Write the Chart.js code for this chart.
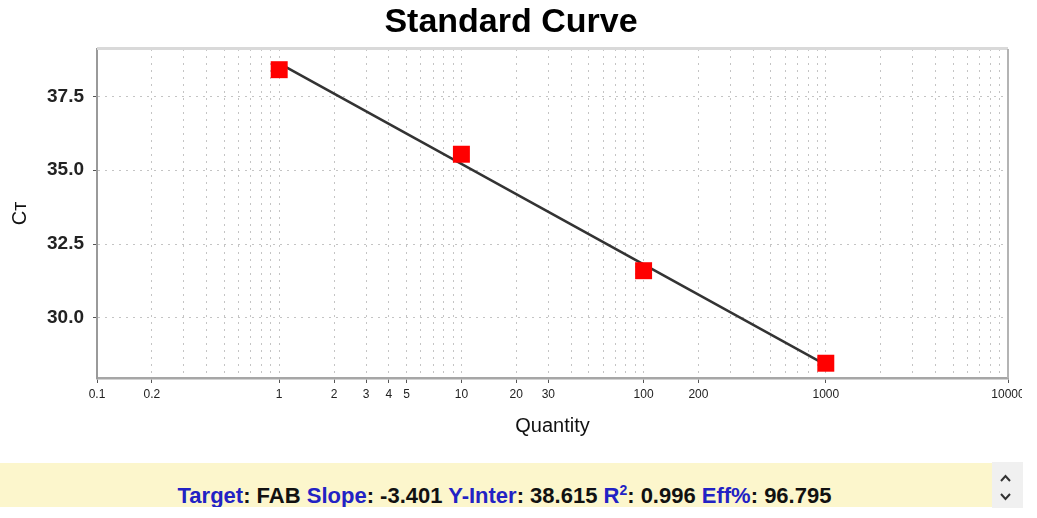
<!DOCTYPE html>
<html>
<head>
<meta charset="utf-8">
<title>Standard Curve</title>
<script src="https://cdn.jsdelivr.net/npm/chart.js@4.4.1/dist/chart.umd.min.js"></script>
<style>
  html, body { margin: 0; padding: 0; background: #fff; }
  body { width: 1037px; height: 518px; position: relative; overflow: hidden; font-family: "Liberation Sans", Arial, sans-serif; }
  #chartBox { position: absolute; left: 0; top: 0; width: 1022px; height: 460px; }
  #stats {
    position: absolute; left: 0; top: 463px; width: 992px; height: 44px;
    padding-left: 17px; padding-top: 22px; box-sizing: border-box;
    background: #fcf6cc; overflow: hidden; text-align: center; white-space: nowrap;
    font: bold 22px/22px "Liberation Sans", Arial, sans-serif; color: #111;
  }
  #stats .k { color: #2222c4; }
  #stats sup { font-size: 14px; line-height: 0; vertical-align: 8px; }
  #scroller { position: absolute; left: 992px; top: 462px; width: 31px; height: 46px; background: #f0f0f0; }
</style>
</head>
<body>
<div id="chartBox"><canvas id="curve"></canvas></div>
<div id="stats"></div>
<div id="scroller">
  <svg width="31" height="46">
    <polyline points="9,19 13.5,14 18,19" fill="none" stroke="#333" stroke-width="2"/>
    <polyline points="9,32 13.5,37 18,32" fill="none" stroke="#333" stroke-width="2"/>
  </svg>
</div>
<script>
// standards: quantity vs Ct
const quantities = [1, 10, 100, 1000];
const ctValues = [38.40, 35.54, 31.60, 28.47];

// fitted line end points
const fitQuantities = [1, 1000];
const fitCt = [38.615, 28.412];

// axis ticks
const xDecades = [0.1, 1, 10, 100, 1000];
const xSteps = [1, 2, 3, 4, 5, 6, 7, 8, 9];
const xLabels = ['0.1', '0.2', '1', '2', '3', '4', '5', '10', '20', '30', '100', '200', '1000', '10000'];
const yTicks = [30, 32.5, 35, 37.5];

// summary line
const target = 'FAB';
const slope = '-3.401';
const yInter = '38.615';
const rSquared = '0.996';
const efficiency = '96.795';

const xGrid = [];
xDecades.forEach(d => xSteps.forEach(s => xGrid.push(+(d * s).toPrecision(6))));
xGrid.push(10000);

function labelFor(v) {
  const hit = xLabels.find(l => Math.abs(parseFloat(l) - v) < v * 1e-6);
  return hit || '';
}

const fontFamily = '"Liberation Sans", Arial, sans-serif';
const dotted = [2, 5];

// light frame on top and right of the plot
const frame = {
  id: 'frame',
  afterDraw(chart) {
    const { ctx, chartArea: a } = chart;
    ctx.save();
    ctx.strokeStyle = '#d9d9d9';
    ctx.lineWidth = 3;
    ctx.beginPath();
    ctx.moveTo(a.left, a.top - 0.5);
    ctx.lineTo(a.right, a.top - 0.5);
    ctx.stroke();
    ctx.strokeStyle = '#b4b4b4';
    ctx.lineWidth = 2;
    ctx.beginPath();
    ctx.moveTo(a.right, a.top);
    ctx.lineTo(a.right, a.bottom);
    ctx.stroke();
    ctx.restore();
  }
};

new Chart(document.getElementById('curve'), {
  type: 'scatter',
  data: {
    datasets: [
      {
        label: 'Standards',
        data: quantities.map((q, i) => ({ x: q, y: ctValues[i] })),
        pointStyle: 'rect',
        pointRadius: 12,
        pointHoverRadius: 12,
        backgroundColor: '#ff0000',
        borderWidth: 0
      },
      {
        label: 'Fit',
        data: fitQuantities.map((q, i) => ({ x: q, y: fitCt[i] })),
        showLine: true,
        pointRadius: 0,
        borderColor: '#333333',
        borderWidth: 2.5
      }
    ]
  },
  options: {
    responsive: true,
    maintainAspectRatio: false,
    animation: false,
    layout: { padding: 0 },
    plugins: {
      legend: { display: false },
      tooltip: { enabled: false },
      title: {
        display: true,
        text: 'Standard Curve',
        color: '#000',
        font: { family: fontFamily, size: 34, weight: 'bold' },
        padding: { top: 2, bottom: 6.2 }
      }
    },
    scales: {
      x: {
        type: 'logarithmic',
        min: 0.1,
        max: 10000,
        afterBuildTicks: s => { s.ticks = xGrid.map(v => ({ value: v })); },
        afterFit: s => { s.height = 82; s.paddingRight = 0; s.paddingLeft = 0; },
        border: { display: true, color: '#a6a6a6', width: 2.5, dash: dotted },
        grid: {
          color: '#c4c4c4',
          lineWidth: 1,
          tickLength: 5,
          tickBorderDash: [],
          tickColor: c => labelFor(c.tick ? c.tick.value : 0) ? '#555' : 'rgba(0,0,0,0)'
        },
        ticks: {
          autoSkip: false,
          maxRotation: 0,
          padding: 4,
          color: '#222',
          font: { family: fontFamily, size: 12 },
          callback: v => labelFor(v)
        },
        title: {
          display: true,
          text: 'Quantity',
          color: '#111',
          font: { family: fontFamily, size: 20 },
          padding: { top: 0, bottom: 22 }
        }
      },
      y: {
        min: 27.97,
        max: 39.1,
        afterBuildTicks: s => { s.ticks = yTicks.map(v => ({ value: v })); },
        afterFit: s => { s.width = 97; },
        border: { display: true, color: '#9a9a9a', width: 2, dash: dotted },
        grid: {
          color: '#c4c4c4',
          lineWidth: 1,
          tickLength: 4,
          tickBorderDash: [],
          tickColor: '#555'
        },
        ticks: {
          padding: 9,
          color: '#222',
          font: { family: fontFamily, size: 19, weight: 'bold' },
          callback: v => v.toFixed(1)
        },
        title: {
          display: true,
          text: 'Cᴛ',
          color: '#111',
          font: { family: fontFamily, size: 20 },
          padding: { top: 8, bottom: 0 }
        }
      },
      right: {
        position: 'right',
        display: true,
        afterFit: s => { s.width = 14; },
        border: { display: false },
        grid: { display: false },
        ticks: { display: false }
      }
    }
  },
  plugins: [frame]
});

document.getElementById('stats').innerHTML =
  '<span class="k">Target</span>: ' + target +
  ' <span class="k">Slope</span>: ' + slope +
  ' <span class="k">Y-Inter</span>: ' + yInter +
  ' <span class="k">R<sup>2</sup></span>: ' + rSquared +
  ' <span class="k">Eff%</span>: ' + efficiency;
</script>
</body>
</html>
